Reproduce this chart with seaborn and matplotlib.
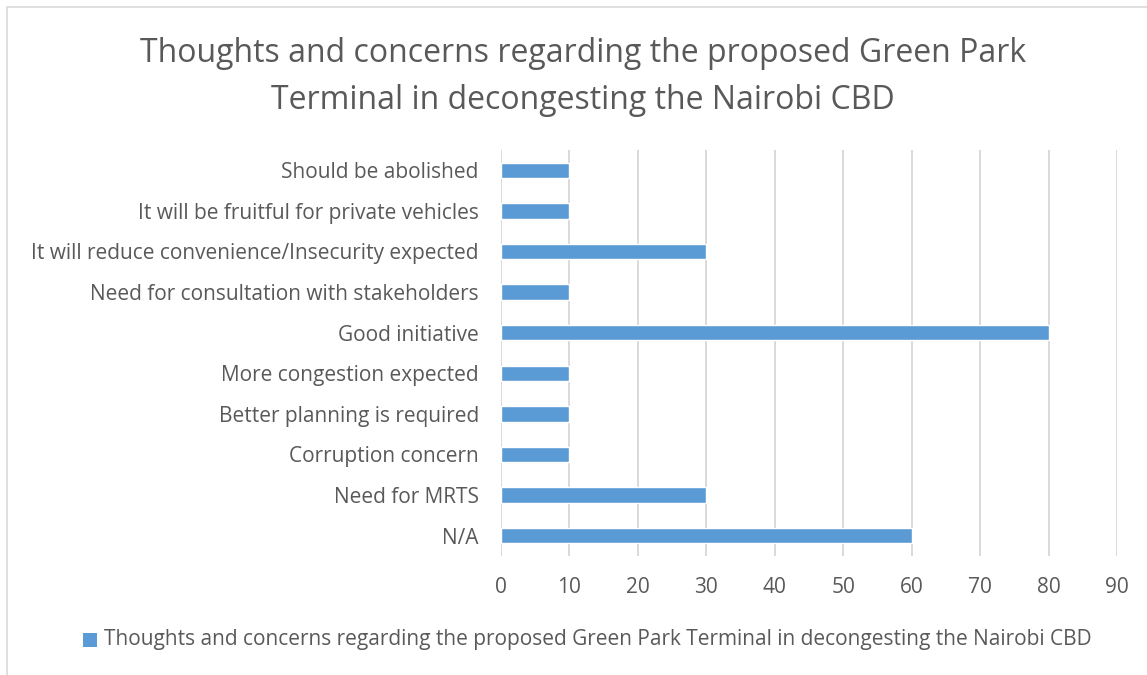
import matplotlib
matplotlib.use("Agg")
import matplotlib.pyplot as plt
from matplotlib.patches import Rectangle
import seaborn as sns
import pandas as pd

categories = [
    "Should be abolished",
    "It will be fruitful for private vehicles",
    "It will reduce convenience/Insecurity expected",
    "Need for consultation with stakeholders",
    "Good initiative",
    "More congestion expected",
    "Better planning is required",
    "Corruption concern",
    "Need for MRTS",
    "N/A",
]
values = [10, 10, 30, 10, 80, 10, 10, 10, 30, 60]
x_ticks = [0, 10, 20, 30, 40, 50, 60, 70, 80, 90]
title = "Thoughts and concerns regarding the proposed Green Park\nTerminal in decongesting the Nairobi CBD"
series_name = "Thoughts and concerns regarding the proposed Green Park Terminal in decongesting the Nairobi CBD"

BAR = "#5b9bd5"
TEXT = "#595959"
GRID = "#d9d9d9"

sns.set_style("white")
plt.rcParams["font.family"] = ["Open Sans", "DejaVu Sans"]

W, H = 1147, 675
fig = plt.figure(figsize=(W / 100, H / 100), dpi=100)

# chart-area border, clipped at right and bottom
fig.patches.append(Rectangle((7 / W, -0.05), 1.2, 1 - 7 / H + 0.05,
                             transform=fig.transFigure, fill=False,
                             edgecolor=GRID, linewidth=1.2))

ax = fig.add_axes([501 / W, 1 - 556 / H, (1117 - 501) / W, (556 - 150) / H])

df = pd.DataFrame({"category": categories, "value": values})
sns.barplot(data=df, x="value", y="category", order=categories, orient="h",
            color=BAR, width=0.38, saturation=1, ax=ax, zorder=3)

ax.set_xlim(0, 90)
ax.set_xticks(x_ticks)
ax.set_xticklabels([str(t) for t in x_ticks])
ax.set_xlabel("")
ax.set_ylabel("")
ax.grid(axis="x", color=GRID, linewidth=1.4, zorder=0)
ax.grid(axis="y", visible=False)
for s in ax.spines.values():
    s.set_visible(False)
ax.tick_params(axis="both", length=0, labelcolor=TEXT, labelsize=15)
ax.tick_params(axis="x", pad=15)
ax.tick_params(axis="y", pad=16)

fig.text(0.508, 1 - 77 / H, title, ha="center", va="center",
         fontsize=23, color=TEXT, linespacing=1.55)

# legend
lx = 83 / W
ly = 1 - 640 / H
fig.patches.append(Rectangle((lx, ly - 7 / H), 14 / W, 14 / H,
                             transform=fig.transFigure, facecolor=BAR,
                             edgecolor="none"))
fig.text(lx + 21 / W, ly, series_name, ha="left", va="center",
         fontsize=15, color=TEXT)

fig.savefig("out.png", dpi=100)
